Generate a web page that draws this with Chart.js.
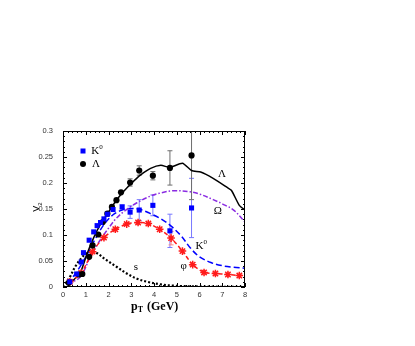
<!DOCTYPE html>
<html>
<head>
<meta charset="utf-8">
<script src="https://cdn.jsdelivr.net/npm/chart.js@4.4.0/dist/chart.umd.min.js"></script>
<style>
  body { margin: 0; background: #fff; }
  canvas { display: block; }
</style>
</head>
<body>
<canvas id="v2-chart" width="415" height="346"></canvas>
<script>
// measured points (markers)
const lamX = [0.25, 0.7, 0.85, 1.15, 1.3, 1.55, 1.75, 1.95, 2.15, 2.35, 2.55, 2.95, 3.35, 3.95, 4.7, 5.65];
const lamY = [0.008, 0.024, 0.025, 0.058, 0.08, 0.101, 0.125, 0.141, 0.154, 0.167, 0.182, 0.201, 0.224, 0.214, 0.229, 0.253];
const lamErr = [0, 0, 0, 0, 0, 0, 0, 0, 0, 0, 0, 0.007, 0.009, 0.008, 0.033, 0.085];

const k0X = [0.3, 0.6, 0.8, 0.9, 1.15, 1.35, 1.5, 1.65, 1.8, 1.95, 2.2, 2.6, 2.95, 3.35, 3.95, 4.7, 5.65];
const k0Y = [0.01, 0.025, 0.048, 0.066, 0.09, 0.106, 0.118, 0.124, 0.131, 0.14, 0.149, 0.154, 0.144, 0.148, 0.157, 0.108, 0.152];
const k0Err = [0, 0, 0, 0, 0, 0, 0, 0, 0, 0, 0, 0.004, 0.012, 0.02, 0.02, 0.032, 0.057];

const phiX = [0.3, 0.8, 1.3, 1.8, 2.3, 2.8, 3.3, 3.75, 4.25, 4.75, 5.25, 5.7, 6.2, 6.7, 7.25, 7.75];
const phiY = [0.01, 0.027, 0.068, 0.095, 0.111, 0.121, 0.124, 0.122, 0.111, 0.094, 0.069, 0.043, 0.028, 0.026, 0.024, 0.022];
const phiErr = [0, 0, 0, 0, 0, 0, 0, 0, 0, 0.013, 0, 0, 0, 0, 0, 0];

// model curves
const lamLineX = [0.2, 0.5, 0.75, 1.05, 1.35, 1.65, 1.95, 2.3, 2.65, 3.0, 3.4, 3.85, 4.3, 4.7, 5.25, 5.65, 6.05, 6.6, 7.2, 7.4, 7.75, 8.0];
const lamLineY = [0.005, 0.015, 0.026, 0.063, 0.095, 0.121, 0.141, 0.164, 0.183, 0.199, 0.215, 0.228, 0.234, 0.23, 0.238, 0.224, 0.221, 0.209, 0.192, 0.186, 0.157, 0.148];

const omX = [0.2, 0.75, 1.2, 1.6, 2.0, 2.3, 2.7, 3.25, 3.85, 4.3, 4.85, 5.6, 6.05, 6.6, 7.0, 7.5, 8.0];
const omY = [0.006, 0.019, 0.058, 0.088, 0.113, 0.13, 0.146, 0.162, 0.175, 0.181, 0.185, 0.183, 0.178, 0.168, 0.16, 0.148, 0.125];

const k0LineX = [0.2, 0.6, 1.0, 1.4, 1.8, 2.2, 2.6, 3.0, 3.4, 3.8, 4.3, 4.7, 5.2, 5.6, 6.0, 6.5, 7.0, 7.5, 8.0];
const k0LineY = [0.006, 0.029, 0.058, 0.091, 0.12, 0.139, 0.148, 0.151, 0.149, 0.142, 0.131, 0.119, 0.098, 0.075, 0.058, 0.047, 0.041, 0.038, 0.036];

const sX = [0, 0.3, 0.55, 0.8, 1.05, 1.25, 1.5, 1.9, 2.35, 2.8, 3.25, 3.7, 4.3, 4.85, 5.6, 6.6, 8.0];
const sY = [0.0, 0.019, 0.04, 0.055, 0.066, 0.069, 0.065, 0.052, 0.039, 0.026, 0.016, 0.01, 0.005, 0.0026, 0.0013, 0.0006, 0.0];

const xTicks = [0, 1, 2, 3, 4, 5, 6, 7, 8];
const yTicks = [0, 0.05, 0.1, 0.15, 0.2, 0.25, 0.3];

// text placed on the curves, in data units
const curveLabels = [
  { text: 'Λ', sup: '', x: 6.99, y: 0.218 },
  { text: 'Ω', sup: '', x: 6.81, y: 0.146 },
  { text: 'K', sup: '0', x: 6.08, y: 0.078 },
  { text: 'φ', sup: '', x: 5.3, y: 0.040 },
  { text: 's', sup: '', x: 3.2, y: 0.039 }
];

const pts = (xs, ys) => xs.map((x, i) => ({ x: x, y: ys[i] }));

// draws vertical error bars under the markers
const errorBars = {
  id: 'errorBars',
  beforeDatasetsDraw(chart) {
    const { ctx, chartArea: a } = chart;
    ctx.save();
    ctx.beginPath();
    ctx.rect(a.left, a.top, a.right - a.left, a.bottom - a.top);
    ctx.clip();
    chart.data.datasets.forEach((ds) => {
      if (!ds.errors) return;
      const xs = chart.scales.x, ys = chart.scales.y;
      ctx.strokeStyle = ds.errorColor;
      ctx.lineWidth = 1;
      ds.data.forEach((p, i) => {
        const e = ds.errors[i];
        if (!e) return;
        const px = xs.getPixelForValue(p.x);
        const top = ys.getPixelForValue(p.y + e);
        const bot = ys.getPixelForValue(p.y - e);
        ctx.beginPath();
        ctx.moveTo(px, top); ctx.lineTo(px, bot);
        ctx.moveTo(px - 2.5, top); ctx.lineTo(px + 2.5, top);
        ctx.moveTo(px - 2.5, bot); ctx.lineTo(px + 2.5, bot);
        ctx.stroke();
      });
    });
    ctx.restore();
  }
};

// box around the plot with inward ticks on all four sides
const frameTicks = {
  id: 'frameTicks',
  afterDatasetsDraw(chart) {
    const { ctx, chartArea: a, scales: { x, y } } = chart;
    ctx.save();
    ctx.strokeStyle = '#000';
    ctx.lineWidth = 1;
    ctx.strokeRect(a.left + 0.5, a.top + 0.5, a.right - a.left - 1, a.bottom - a.top - 1);
    ctx.beginPath();
    for (let i = 0; i <= 40; i++) {
      const px = Math.round(x.getPixelForValue(i / 5)) + 0.5;
      const len = i % 5 === 0 ? 4 : 2;
      ctx.moveTo(px, a.bottom); ctx.lineTo(px, a.bottom - len);
      ctx.moveTo(px, a.top); ctx.lineTo(px, a.top + len);
    }
    for (let i = 0; i <= 30; i++) {
      const py = Math.round(y.getPixelForValue(i / 100)) + 0.5;
      const len = i % 5 === 0 ? 4 : 2;
      ctx.moveTo(a.left, py); ctx.lineTo(a.left + len, py);
      ctx.moveTo(a.right, py); ctx.lineTo(a.right - len, py);
    }
    ctx.stroke();
    ctx.restore();
  }
};

function drawSub(ctx, main, sub, x, y, font, subFont, up) {
  ctx.font = font;
  const w = ctx.measureText(main).width;
  ctx.font = subFont;
  const ws = ctx.measureText(sub).width;
  const start = x - (w + ws) / 2;
  ctx.textAlign = 'left';
  ctx.font = font;
  ctx.fillText(main, start, y);
  ctx.font = subFont;
  ctx.fillText(sub, start + w, y + up);
}

// legend, curve names and axis titles
const textLayer = {
  id: 'textLayer',
  afterDraw(chart) {
    const { ctx, chartArea: a, scales: { x, y } } = chart;
    ctx.save();
    ctx.fillStyle = '#000';
    ctx.textBaseline = 'middle';

    curveLabels.forEach((l) => {
      const px = x.getPixelForValue(l.x), py = y.getPixelForValue(l.y);
      drawSub(ctx, l.text, l.sup, px, py, '11px "Liberation Serif"', '7px "Liberation Serif"', -4);
    });

    // legend
    const lx = a.left + 20;
    ctx.fillStyle = '#0000ff';
    ctx.fillRect(lx - 2.5, a.top + 17.5, 5, 5);
    ctx.fillStyle = '#000';
    ctx.beginPath();
    ctx.arc(lx, a.top + 33, 3, 0, Math.PI * 2);
    ctx.fill();
    drawSub(ctx, 'K', '0', lx + 14, a.top + 20, '11px "Liberation Serif"', '7px "Liberation Serif"', -4);
    drawSub(ctx, 'Λ', '', lx + 13, a.top + 33, '11px "Liberation Serif"', '7px "Liberation Serif"', 0);

    // x title
    drawSub(ctx, 'p', 'T', (a.left + a.right) / 2 - 17, 307, 'bold 12px "Liberation Serif"', 'bold 8px "Liberation Serif"', 3);
    ctx.textAlign = 'left';
    ctx.font = 'bold 12px "Liberation Serif"';
    ctx.fillText('(GeV)', (a.left + a.right) / 2 - 7, 307);

    // y title
    ctx.translate(37, 207);
    ctx.rotate(-Math.PI / 2);
    drawSub(ctx, 'V', '2', 0, 0, '9px "Liberation Sans"', '6px "Liberation Sans"', 3);
    ctx.restore();
  }
};

new Chart(document.getElementById('v2-chart').getContext('2d'), {
  type: 'scatter',
  data: {
    datasets: [
      {
        label: 'K0',
        data: pts(k0X, k0Y),
        errors: k0Err,
        errorColor: '#7878ff',
        pointStyle: 'rect',
        pointRadius: 3.6,
        backgroundColor: '#0000ff',
        borderColor: '#0000ff',
        borderWidth: 0,
        showLine: false
      },
      {
        label: 'Lambda',
        data: pts(lamX, lamY),
        errors: lamErr,
        errorColor: '#6e6e6e',
        pointStyle: 'circle',
        pointRadius: 3.1,
        backgroundColor: '#000',
        borderColor: '#000',
        borderWidth: 0,
        showLine: false
      },
      {
        label: 'phi',
        data: pts(phiX, phiY),
        errors: phiErr,
        errorColor: '#ff8080',
        pointStyle: 'star',
        pointRadius: 3.8,
        borderColor: '#ff1a1a',
        backgroundColor: '#ff1a1a',
        borderWidth: 1.5,
        showLine: true,
        borderDash: [4, 2.5],
        tension: 0.3
      },
      {
        label: 'Lambda model',
        data: pts(lamLineX, lamLineY),
        borderColor: '#000',
        borderWidth: 1.5,
        pointRadius: 0,
        showLine: true,
        tension: 0.2
      },
      {
        label: 'Omega model',
        data: pts(omX, omY),
        borderColor: '#8a2be2',
        borderWidth: 1.5,
        borderDash: [5, 2, 1.5, 2],
        pointRadius: 0,
        showLine: true,
        tension: 0.35
      },
      {
        label: 'K0 model',
        data: pts(k0LineX, k0LineY),
        borderColor: '#0000ff',
        borderWidth: 1.5,
        borderDash: [6, 3],
        pointRadius: 0,
        showLine: true,
        tension: 0.35
      },
      {
        label: 's',
        data: pts(sX, sY),
        borderColor: '#000',
        borderWidth: 2.2,
        borderDash: [2, 2],
        pointRadius: 0,
        showLine: true,
        tension: 0.35
      }
    ]
  },
  options: {
    responsive: false,
    animation: false,
    layout: { padding: { left: 0, top: 131, right: 170, bottom: 0 } },
    plugins: {
      legend: { display: false },
      tooltip: { enabled: false }
    },
    scales: {
      x: {
        type: 'linear',
        min: 0,
        max: 8,
        afterFit: (s) => { s.height = 59; },
        afterBuildTicks: (s) => { s.ticks = xTicks.map(v => ({ value: v })); },
        grid: { display: false, drawTicks: false },
        border: { display: false },
        ticks: { padding: 3, color: '#333', font: { family: 'Liberation Sans', size: 7.5 } }
      },
      y: {
        min: 0,
        max: 0.3,
        afterFit: (s) => { s.width = 63; },
        afterBuildTicks: (s) => { s.ticks = yTicks.map(v => ({ value: v })); },
        grid: { display: false, drawTicks: false },
        border: { display: false },
        ticks: {
          padding: 10,
          color: '#333',
          font: { family: 'Liberation Sans', size: 7.5 },
          callback: (v) => String(Math.round(v * 100) / 100)
        }
      }
    }
  },
  plugins: [errorBars, frameTicks, textLayer]
});
</script>
</body>
</html>
